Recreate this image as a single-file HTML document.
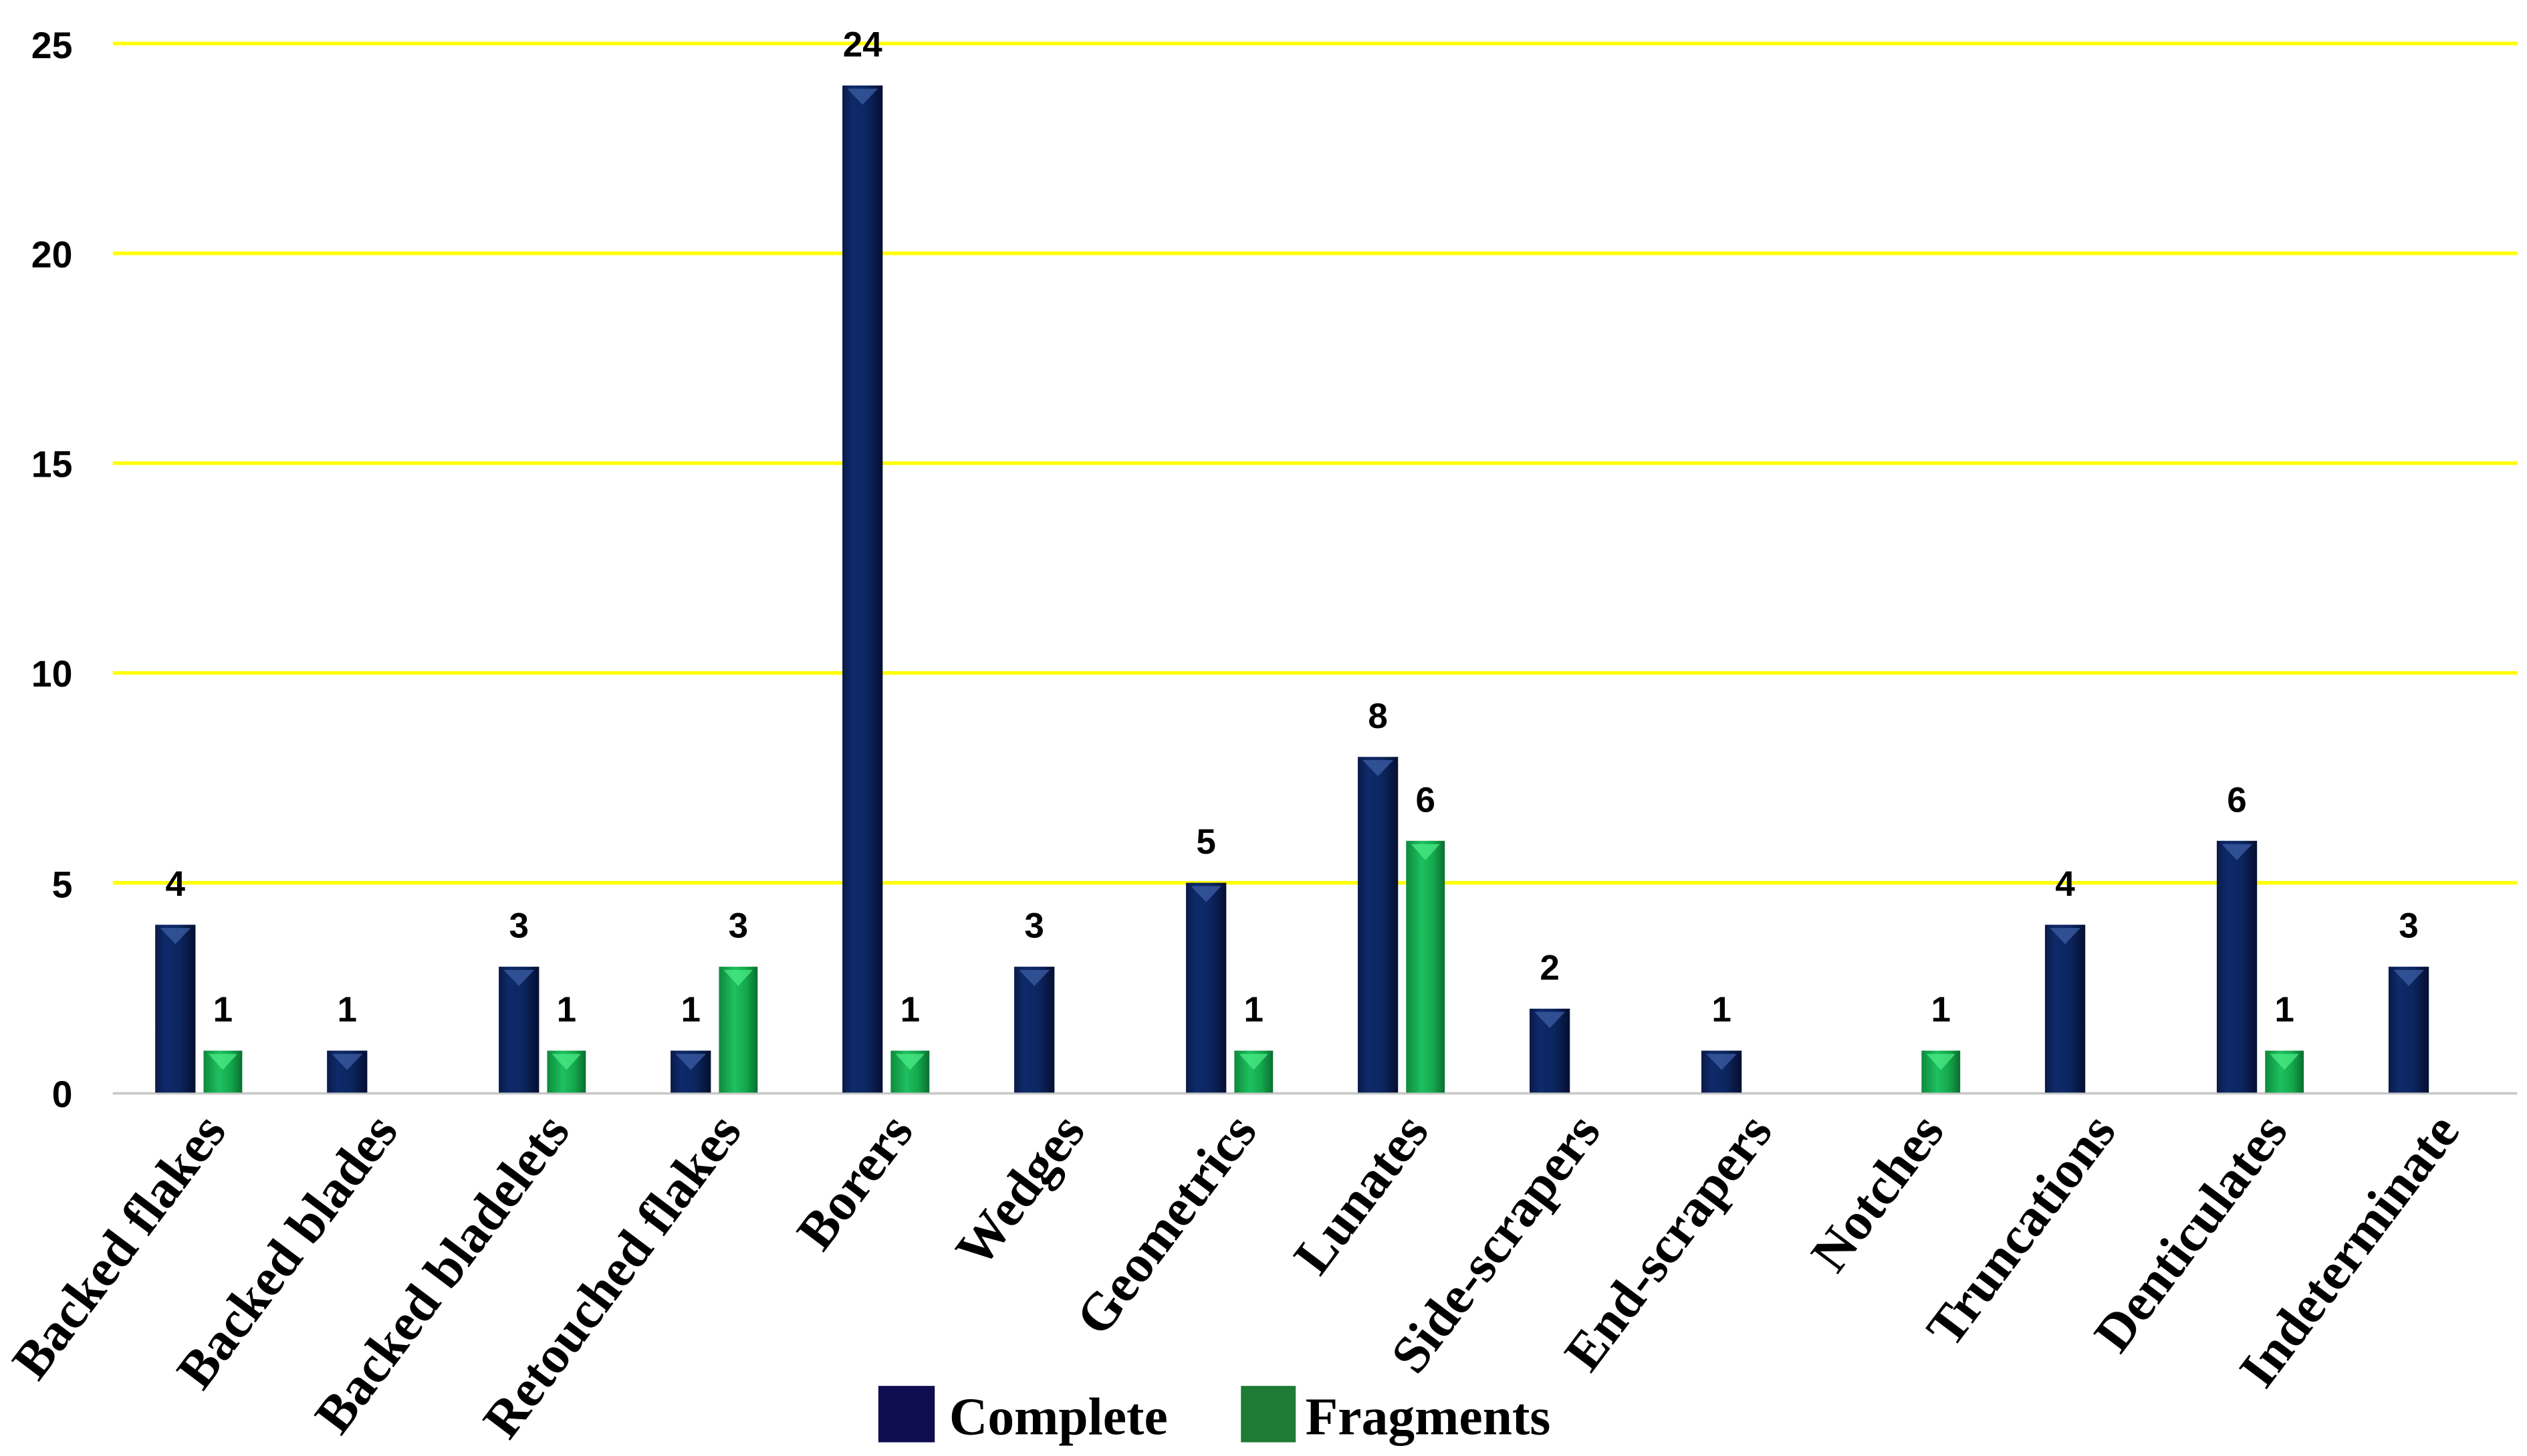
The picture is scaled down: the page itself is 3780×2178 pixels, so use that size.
<!DOCTYPE html>
<html><head><meta charset="utf-8"><style>
html,body{margin:0;padding:0;background:#fff;}
svg{display:block;}
.yl{font-family:"Liberation Sans",sans-serif;font-weight:bold;font-size:23px;fill:#000;}
.vl{font-family:"Liberation Sans",sans-serif;font-weight:bold;font-size:22px;fill:#000;}
.xl{font-family:"Liberation Serif",serif;font-weight:bold;font-size:33px;fill:#000;}
.lg{font-family:"Liberation Serif",serif;font-weight:bold;font-size:33px;fill:#000;}
</style></head><body>
<svg width="3780" height="2178" viewBox="0 0 1568 903.5" preserveAspectRatio="none" xmlns="http://www.w3.org/2000/svg">
<defs>
<linearGradient id="nb" x1="0" x2="1" y1="0" y2="0">
<stop offset="0" stop-color="#0a1a48"/><stop offset="0.25" stop-color="#0e2a6a"/><stop offset="0.6" stop-color="#0c2660"/><stop offset="1" stop-color="#050f30"/>
</linearGradient>
<linearGradient id="gb" x1="0" x2="1" y1="0" y2="0">
<stop offset="0" stop-color="#0d8a3c"/><stop offset="0.4" stop-color="#1fc060"/><stop offset="0.7" stop-color="#14a84c"/><stop offset="1" stop-color="#0a6e30"/>
</linearGradient>
</defs>
<g stroke="#ffff00" stroke-width="2.2">
<line x1="70" x2="1562" y1="27" y2="27"/>
<line x1="70" x2="1562" y1="157.2" y2="157.2"/>
<line x1="70" x2="1562" y1="287.4" y2="287.4"/>
<line x1="70" x2="1562" y1="417.6" y2="417.6"/>
<line x1="70" x2="1562" y1="547.8" y2="547.8"/>
</g>
<line x1="70" x2="1562" y1="678.5" y2="678.5" stroke="#c8c8c8" stroke-width="1.5"/>
<g class="yl" text-anchor="end">
<text x="45" y="36">25</text>
<text x="45" y="166">20</text>
<text x="45" y="296">15</text>
<text x="45" y="426">10</text>
<text x="45" y="557">5</text>
<text x="45" y="687">0</text>
</g>
<g id="bars"></g>
<g id="vals" class="vl" text-anchor="middle"></g>
<g id="xls" class="xl" text-anchor="end"></g>
<rect x="545" y="860" width="35" height="35" fill="#0d0d4f"/>
<text class="lg" x="589" y="890">Complete</text>
<rect x="770" y="860" width="34" height="35" fill="#1e7b34"/>
<text class="lg" x="810" y="890">Fragments</text>
</svg>
<script>
var cats=["Backed flakes","Backed blades","Backed bladelets","Retouched flakes","Borers","Wedges","Geometrics","Lunates","Side-scrapers","End-scrapers","Notches","Truncations","Denticulates","Indeterminate"];
var c=[4,1,3,1,24,3,5,8,2,1,0,4,6,3];
var f=[1,0,1,3,1,0,1,6,0,0,1,0,1,0];
var ns="http://www.w3.org/2000/svg";
var y0=678,u=26.04;
var B=document.getElementById("bars"),V=document.getElementById("vals"),X=document.getElementById("xls");
function el(t,a,p,txt){var e=document.createElementNS(ns,t);for(var k in a)e.setAttribute(k,a[k]);if(txt!==undefined)e.textContent=txt;p.appendChild(e);return e;}
for(var i=0;i<14;i++){
 var cx=123.3+i*106.6;
 if(c[i]){var x=cx-27,h=c[i]*u,t=y0-h;
  el("rect",{x:x,y:t,width:25,height:h,fill:"url(#nb)"},B);
  el("polygon",{points:(x+3)+","+(t+2)+" "+(x+22)+","+(t+2)+" "+(x+12.5)+","+(t+12),fill:"#3a5aa0",opacity:"0.8"},B);
  el("text",{x:x+12.5,y:t-18},V,String(c[i]));}
 if(f[i]){var x=cx+3,h=f[i]*u,t=y0-h;
  el("rect",{x:x,y:t,width:24,height:h,fill:"url(#gb)"},B);
  el("polygon",{points:(x+3)+","+(t+2)+" "+(x+21)+","+(t+2)+" "+(x+12)+","+(t+12),fill:"#4ef08a",opacity:"0.7"},B);
  el("text",{x:x+12,y:t-18},V,String(f[i]));}
 var ax=cx+18,ay=702;
 el("text",{x:ax,y:ay,transform:"rotate(-53 "+ax+" "+ay+")"},X,cats[i]);
}
</script>
</body></html>
